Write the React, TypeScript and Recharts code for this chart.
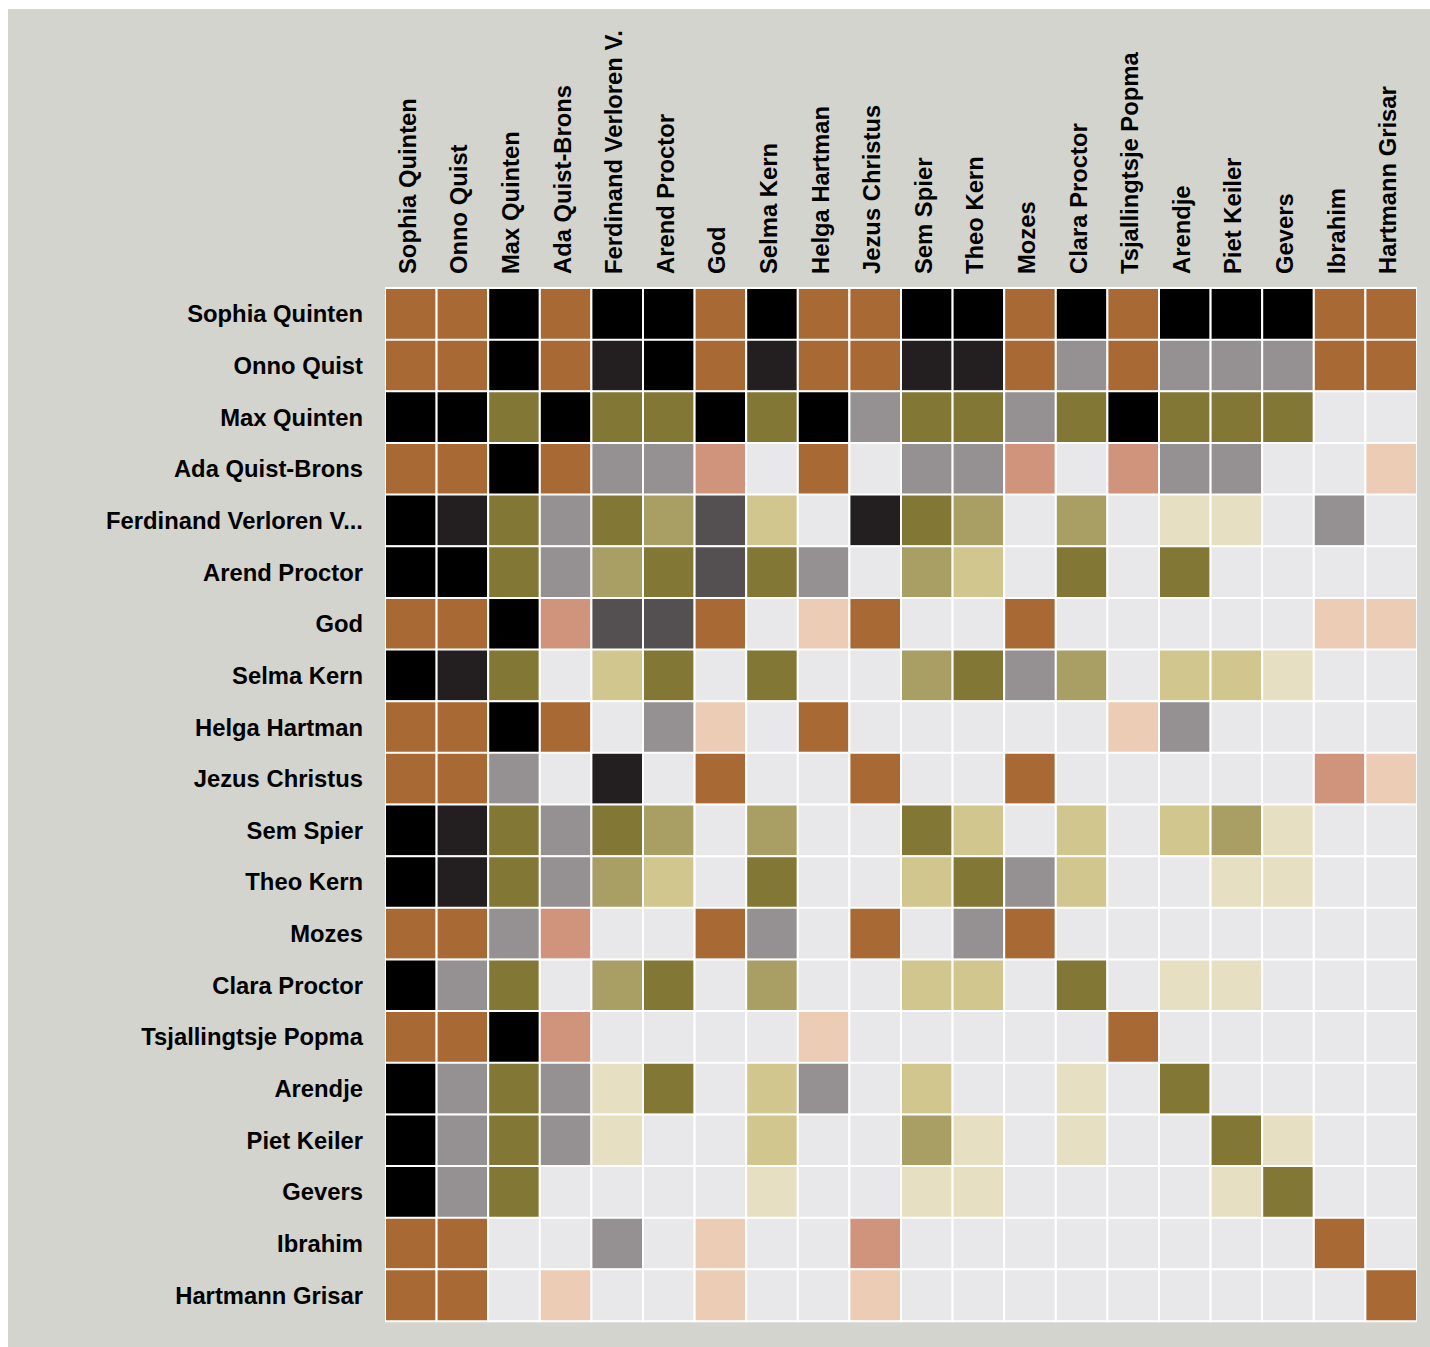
import React from "react";
import { BarChart, Bar, XAxis, YAxis, Cell } from "recharts";

// characters, same order for rows and columns
const characters = [
  "Sophia Quinten",
  "Onno Quist",
  "Max Quinten",
  "Ada Quist-Brons",
  "Ferdinand Verloren V.",
  "Arend Proctor",
  "God",
  "Selma Kern",
  "Helga Hartman",
  "Jezus Christus",
  "Sem Spier",
  "Theo Kern",
  "Mozes",
  "Clara Proctor",
  "Tsjallingtsje Popma",
  "Arendje",
  "Piet Keiler",
  "Gevers",
  "Ibrahim",
  "Hartmann Grisar",
];

// one string per row, one letter per column (see palette)
const cellCodes = [
  "BBKBKKBKBBKKBKBKKKBB",
  "BBKBDKBDBBDDBGBGGGBB",
  "KKOKOOKOKGOOGOKOOO..",
  "BBKBGGS.B.GGS.SGG..P",
  "KDOGOLMY.DOL.L.CC.G.",
  "KKOGLOMOG.LY.O.O....",
  "BBKSMMB.PB..B.....PP",
  "KDO.YO.O..LOGL.YYC..",
  "BBKB.GP.B.....PG....",
  "BBG.D.B..B..B.....SP",
  "KDOGOL.L..OY.Y.YLC..",
  "KDOGLY.O..YOGY..CC..",
  "BBGS..BG.B.GB.......",
  "KGO.LO.L..YY.O.CC...",
  "BBKS....P.....B.....",
  "KGOGCO.YG.Y..C.O....",
  "KGOGC..Y..LC.C..OC..",
  "KGO....C..CC....CO..",
  "BB..G.P..S........B.",
  "BB.P..P..P.........B",
];

const palette: Record<string, string> = {
  B: "#A86934",
  K: "#000000",
  D: "#231F20",
  M: "#545052",
  G: "#959192",
  O: "#827734",
  L: "#A99E64",
  Y: "#D1C68E",
  C: "#E7DFC1",
  S: "#D0937C",
  P: "#EDCCB6",
  ".": "#E8E8EA",
};

const colTicks = characters.map((_, j) => j + 0.5);

const data = characters.map((name, i) => {
  const row: any = { name };
  characters.forEach((_, j) => {
    row["c" + j] = 1;
  });
  return row;
});

const font = "'Liberation Sans', Arial, Helvetica, sans-serif";

const shortName = (s: string) => (s.length > 20 ? s.slice(0, 20) + "..." : s);

const ColTick = (props: any) => {
  const { x, y, payload } = props;
  const name = characters[Math.floor(payload.value)];
  return (
    <text
      x={x}
      y={y}
      dy={5}
      transform={`rotate(-90, ${x}, ${y})`}
      textAnchor="start"
      fontFamily={font}
      fontWeight="bold"
      fontSize={23.8}
      fill="#000"
    >
      {name}
    </text>
  );
};

const RowTick = (props: any) => {
  const { x, y, payload } = props;
  return (
    <text
      x={x}
      y={y}
      dy={8.5}
      textAnchor="end"
      fontFamily={font}
      fontWeight="bold"
      fontSize={23.8}
      fill="#000"
    >
      {shortName(payload.value)}
    </text>
  );
};

export default function App() {
  return (
    <div
      style={{
        position: "absolute",
        left: 8,
        top: 9,
        width: 1422,
        height: 1338,
        background: "#D3D4CE",
      }}
    >
      <BarChart
        width={1422}
        height={1338}
        data={data}
        layout="vertical"
        barCategoryGap={0}
        barGap={0}
        margin={{ top: 0, right: 13, bottom: 26, left: 0 }}
      >
        <XAxis
          type="number"
          orientation="top"
          domain={[0, 20]}
          ticks={colTicks}
          interval={0}
          allowDataOverflow
          height={279}
          axisLine={false}
          tickLine={false}
          tickSize={0}
          tickMargin={14}
          tick={<ColTick />}
        />
        <YAxis
          type="category"
          dataKey="name"
          width={377}
          interval={0}
          axisLine={false}
          tickLine={false}
          tickSize={0}
          tickMargin={22}
          tick={<RowTick />}
        />
        {characters.map((_, j) => (
          <Bar
            key={j}
            dataKey={"c" + j}
            stackId="m"
            stroke="#ffffff"
            strokeWidth={2}
            isAnimationActive={false}
          >
            {cellCodes.map((codes, i) => (
              <Cell key={i} fill={palette[codes[j]]} />
            ))}
          </Bar>
        ))}
      </BarChart>
    </div>
  );
}
